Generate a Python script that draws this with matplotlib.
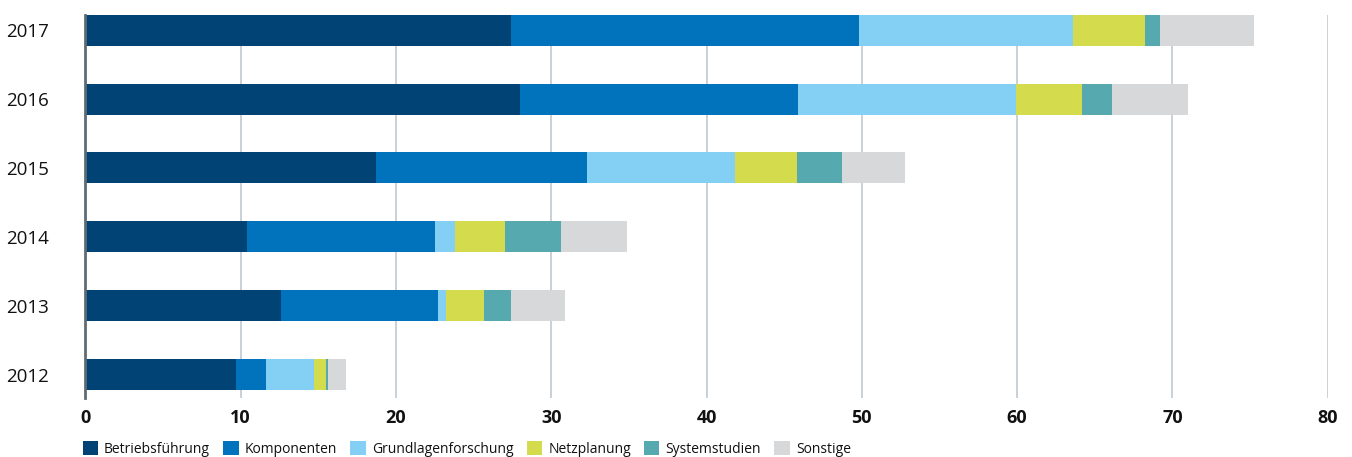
import matplotlib
matplotlib.use("Agg")
import matplotlib.pyplot as plt
import numpy as np

plt.rcParams['font.family'] = ['Open Sans', 'DejaVu Sans']

years = ["2012", "2013", "2014", "2015", "2016", "2017"]
categories = ["Betriebsführung", "Komponenten", "Grundlagenforschung",
              "Netzplanung", "Systemstudien", "Sonstige"]
betrieb       = [9.70, 12.60, 10.41, 18.72, 27.99, 27.41]
komponenten   = [1.93, 10.09, 12.11, 13.59, 17.90, 22.41]
grundlagen    = [3.10, 0.52, 1.29, 9.53, 14.02, 13.78]
netzplanung   = [0.77, 2.46, 3.22, 3.99, 4.27, 4.64]
systemstudien = [0.13, 1.74, 3.60, 2.90, 1.93, 0.97]
sonstige      = [1.16, 3.48, 4.25, 4.05, 4.89, 6.05]
xticks = [0, 10, 20, 30, 40, 50, 60, 70, 80]

series = [betrieb, komponenten, grundlagen, netzplanung, systemstudien, sonstige]
colors = ["#004374", "#0073BC", "#84D0F5", "#D4DC4E", "#57A9B0", "#D7D8DA"]

fig = plt.figure(figsize=(13.52, 4.57), dpi=100)
ax = fig.add_axes([85.3/1352, 1-398/457, (1327.7-85.3)/1352, (398-15)/457])

y = np.arange(len(years))
left = np.zeros(len(years))
handles = []
for vals, c, lab in zip(series, colors, categories):
    h = ax.barh(y, vals, left=left, height=0.45, color=c, label=lab, zorder=3)
    handles.append(h)
    left += np.array(vals)

ax.set_xlim(0, 80)
ax.set_ylim(-0.34, 5.22)
ax.set_xticks(xticks)
ax.set_xticklabels([str(t) for t in xticks], fontsize=13, fontweight='bold', color='#111111')
ax.set_yticks(y)
ax.set_yticklabels(years, fontsize=13.5, color='#111111')
ax.tick_params(axis='y', length=0, pad=26)
ax.tick_params(axis='x', length=0, pad=8)

ax.grid(axis='x', color='#C5CED4', linewidth=1.3, zorder=0)
for s in ['top', 'right', 'bottom']:
    ax.spines[s].set_visible(False)
ax.spines['left'].set_color('#5F6B73')
ax.spines['left'].set_linewidth(2)
ax.spines['left'].set_zorder(4)

leg = fig.legend(handles=handles, labels=categories, loc='lower left',
                 bbox_to_anchor=(77/1352, -0.012), ncol=6, frameon=False,
                 fontsize=10, handlelength=1.1, handleheight=1.2,
                 handletextpad=0.45, columnspacing=0.95, borderaxespad=0)
for t in leg.get_texts():
    t.set_color('#111111')

fig.savefig("out.png", dpi=100)
